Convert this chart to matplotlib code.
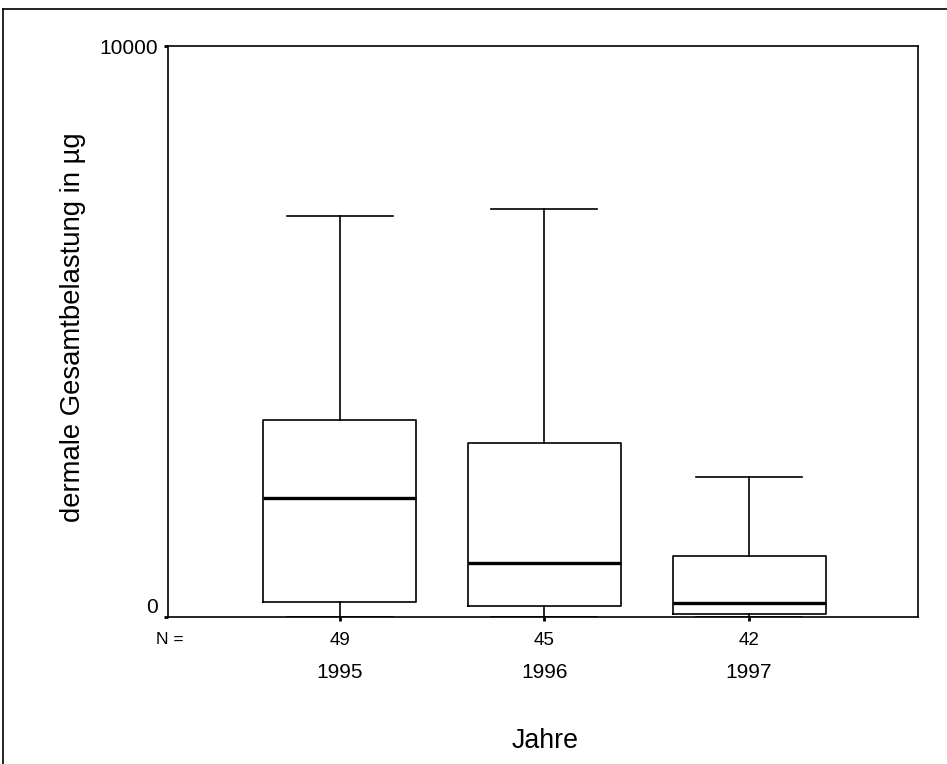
import matplotlib.pyplot as plt
from matplotlib.lines import Line2D

plt.rcParams['font.family'] = ['Liberation Sans', 'DejaVu Sans']

years = ['1995', '1996', '1997']
counts = [49, 45, 42]
whis_low = [0, 0, 0]
q1 = [259, 201, 58]
medians = [2090, 953, 245]
q3 = [3454, 3052, 1061]
whis_high = [7027, 7139, 2452]

stats = []
for i in range(len(years)):
    stats.append({'label': years[i], 'whislo': whis_low[i], 'q1': q1[i], 'med': medians[i],
                  'q3': q3[i], 'whishi': whis_high[i], 'fliers': []})

fig = plt.figure(figsize=(9.47, 7.64), dpi=100)
ax = fig.add_axes([168/947, 1-617/764, 750/947, 571/764])

ax.bxp(stats, positions=[1, 2, 3], widths=0.747, capwidths=0.518, showfliers=False,
       boxprops=dict(color='black', linewidth=1.2),
       whiskerprops=dict(color='black', linewidth=1.2),
       capprops=dict(color='black', linewidth=1.2),
       medianprops=dict(color='black', linewidth=2.4))

ax.set_xlim(0.162, 3.825)
ax.set_ylim(0, 10000)
for s in ax.spines.values():
    s.set_linewidth(1.2)

ax.set_yticks([0, 10000])
ax.set_yticklabels(['0', '10000'], fontsize=15)
ax.set_xticks([1, 2, 3])
ax.set_xticklabels([str(c) for c in counts], fontsize=13.5)
ax.tick_params(axis='y', direction='out', length=3, width=2, pad=4)
ax.tick_params(axis='x', direction='out', length=3, width=2, pad=8)
ax.get_yticklabels()[0].set_verticalalignment('bottom')

tr = ax.get_xaxis_transform()
for i, y in enumerate(years):
    ax.text(i + 1, -(673-617)/571, y, transform=tr, ha='center', va='center', fontsize=15)
ax.text(0.172, -(640-617)/571, 'N =', transform=tr, ha='center', va='center', fontsize=12.5)

fig.text(73/947, 1 - 327/764, 'dermale Gesamtbelastung in µg', rotation=90,
         ha='center', va='center', fontsize=19.8)
fig.text(545/947, 1 - 741/764, 'Jahre', ha='center', va='center', fontsize=19.3)

# outer frame
fig.add_artist(Line2D([3/947, 3/947], [0, 1-9/764], color='black', linewidth=1.2, transform=fig.transFigure))
fig.add_artist(Line2D([3/947, 1], [1-9/764, 1-9/764], color='black', linewidth=1.2, transform=fig.transFigure))

fig.savefig('out.png', dpi=100)
